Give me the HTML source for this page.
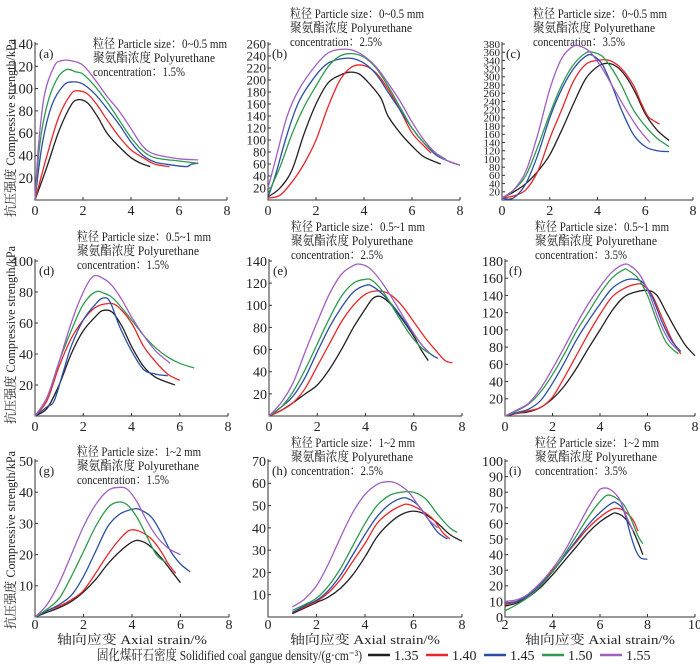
<!DOCTYPE html>
<html><head><meta charset="utf-8">
<style>
html,body{margin:0;padding:0;background:#fff;}
svg{display:block;font-family:"Liberation Serif","Noto Serif CJK SC","Noto Sans CJK SC",serif;}
</style></head>
<body>
<svg id="fig" width="700" height="664" viewBox="0 0 700 664"></svg>
<script>
const densities = ["1.35","1.40","1.45","1.50","1.55"];
const colors = ["#231f20","#e8262b","#2b4fa3","#2e9a4e","#a05fc0"];

const aData = [
 [[0,0],[0.5,30],[1,62],[1.5,85],[1.8,90],[2.2,87],[2.6,75],[3,60],[3.5,48],[4,38],[4.4,33],[4.8,30]],
 [[0,0],[0.5,40],[1,75],[1.5,95],[1.8,98],[2.2,95],[2.6,85],[3,72],[3.5,57],[4,45],[4.5,38],[5,32],[5.6,30]],
 [[0,0],[0.3,50],[0.7,85],[1.2,103],[1.6,106],[2,104],[2.5,95],[3,82],[3.5,68],[4,52],[4.5,40],[5,34],[5.5,32],[6.3,30],[6.5,32],[6.8,33]],
 [[0,0],[0.2,50],[0.5,85],[0.9,108],[1.3,117],[1.7,115],[2,113],[2.5,102],[3,88],[3.5,72],[4,56],[4.5,44],[5,38],[6,35],[6.8,33]],
 [[0,0],[0.15,50],[0.4,95],[0.8,120],[1.1,125],[1.5,125],[2,121],[2.5,108],[3,93],[3.5,80],[4,64],[4.5,48],[5,41],[6,37],[6.8,36]]
];
const bData = [
 [[0,5],[0.5,20],[1,50],[1.5,110],[2,160],[2.5,195],[3,208],[3.4,213],[3.8,210],[4.2,195],[4.7,170],[5,140],[5.5,112],[6,90],[6.5,72],[7.2,60]],
 [[0,3],[0.5,8],[1,30],[1.5,60],[2,100],[2.5,155],[3,200],[3.5,222],[4,224],[4.5,212],[5,185],[5.5,150],[6,112],[6.5,90],[6.8,78]],
 [[0,5],[0.3,40],[0.8,110],[1.3,165],[2,208],[2.5,228],[3,235],[3.5,236],[4,228],[4.5,210],[5,180],[5.5,150],[6,120],[6.5,95],[7,75],[7.5,65],[8,58]],
 [[0,10],[0.5,55],[1,110],[1.5,155],[2,190],[2.5,222],[3,240],[3.5,244],[4,238],[4.5,220],[5,190],[5.5,155],[6,120],[6.5,95],[7,78],[7.4,68]],
 [[0,20],[0.3,65],[0.8,140],[1.3,185],[2,225],[2.5,245],[3,251],[3.5,250],[4,240],[4.5,222],[5,195],[5.5,165],[6,130],[6.5,100],[7,78],[7.5,65],[8,58]]
];
const cData = [
 [[0,5],[0.5,20],[1,40],[1.5,70],[2,110],[2.5,170],[3,235],[3.5,295],[4,325],[4.4,333],[4.8,325],[5.2,300],[5.6,260],[6,210],[6.5,170],[7,145]],
 [[0,5],[0.5,10],[1,25],[1.5,70],[2,150],[2.5,220],[3,290],[3.5,330],[4,340],[4.5,340],[5,320],[5.5,280],[5.8,240],[6.1,205],[6.3,195],[6.6,185]],
 [[0,5],[0.3,2],[0.6,10],[1,40],[1.5,110],[2,200],[2.5,270],[3,320],[3.5,350],[3.8,352],[4.2,330],[4.6,280],[5,220],[5.5,160],[6,130],[6.5,120],[7,118]],
 [[0,5],[0.5,25],[1,60],[1.5,130],[2,210],[2.5,280],[3,330],[3.5,358],[3.8,360],[4.2,350],[4.6,320],[5,280],[5.5,220],[6,180],[6.5,150],[7,130]],
 [[0,5],[0.5,25],[1,70],[1.5,160],[2,270],[2.5,345],[3,375],[3.3,374],[3.7,360],[4.2,320],[4.7,270],[5.2,220],[5.7,175],[6.2,140]]
];
const dData = [
 [[0,0],[0.5,5],[1,20],[1.5,40],[2,55],[2.5,64],[2.8,68],[3.2,67],[3.6,58],[4,45],[4.5,32],[5,25],[5.8,20]],
 [[0,0],[0.5,10],[1,32],[1.5,50],[2,62],[2.5,70],[3,72.5],[3.4,71],[4,60],[4.5,45],[5,35],[5.5,27],[6,23]],
 [[0,0],[0.5,6],[0.8,10],[1.2,30],[1.5,45],[2,62],[2.5,72],[2.8,76],[3.1,74],[3.5,58],[4,42],[4.5,30],[5,27],[5.5,26]],
 [[0,0],[0.5,12],[1,35],[1.5,55],[2,72],[2.5,80],[2.9,79],[3.3,75],[4,62],[4.5,52],[5,44],[5.5,38],[6,34],[6.6,31]],
 [[0,0],[0.5,12],[1,35],[1.5,60],[2,80],[2.4,90],[2.8,89],[3.2,84],[3.6,75],[4,64],[4.5,52],[5,42],[5.6,34]]
];
const eData = [
 [[0,0],[0.5,5],[1,12],[1.5,20],[2,28],[2.5,42],[3,60],[3.5,80],[4,97],[4.3,106],[4.6,108],[5,102],[5.5,88],[6,72],[6.3,60],[6.6,50]],
 [[0,0],[0.5,5],[1,12],[1.5,25],[2,45],[2.5,65],[3,85],[3.5,100],[4,110],[4.5,113],[5,110],[5.5,100],[6,85],[6.5,70],[7,57],[7.3,50],[7.6,48]],
 [[0,0],[0.5,8],[1,18],[1.5,35],[2,58],[2.5,80],[3,98],[3.5,112],[4,118],[4.3,117],[4.8,108],[5.3,95],[5.8,80],[6.3,65],[6.7,56],[7,52]],
 [[0,0],[0.5,8],[1,22],[1.5,42],[2,65],[2.5,88],[3,108],[3.5,120],[4,123.5],[4.3,122],[4.8,110],[5.3,92],[5.8,75],[6.3,62],[6.7,56]],
 [[0,0],[0.5,12],[1,30],[1.5,58],[2,85],[2.5,110],[3,128],[3.5,136],[3.8,137],[4.2,133],[4.7,120],[5.2,103],[5.7,85],[6.2,68],[6.6,58]]
];
const fData = [
 [[0,0],[0.5,3],[1,5],[1.5,10],[2,20],[2.5,35],[3,55],[3.5,78],[4,100],[4.5,122],[5,138],[5.5,144],[6,146],[6.4,140],[6.8,120],[7.2,100],[7.6,82],[8,70]],
 [[0,0],[0.5,3],[1,6],[1.5,10],[2,22],[2.5,45],[3,70],[3.5,95],[4,118],[4.5,138],[5,148],[5.5,153],[5.8,152],[6.2,140],[6.6,115],[7,90],[7.4,72]],
 [[0,0],[0.5,4],[1,8],[1.5,18],[2,38],[2.5,62],[3,88],[3.5,110],[4,130],[4.5,148],[5,157],[5.4,159],[5.8,155],[6.2,138],[6.6,110],[7,88],[7.4,75]],
 [[0,0],[0.5,6],[1,14],[1.5,28],[2,48],[2.5,72],[3,98],[3.5,120],[4,142],[4.5,160],[5,170],[5.2,169],[5.6,160],[6,140],[6.4,110],[6.8,85],[7.3,72]],
 [[0,0],[0.5,7],[1,15],[1.5,32],[2,55],[2.5,80],[3,106],[3.5,130],[4,150],[4.5,167],[5,176],[5.3,174],[5.7,163],[6.1,140],[6.5,110],[6.9,88],[7.3,76]]
];
const gData = [
 [[0,0],[0.5,1.5],[1,3],[1.5,5],[2,8],[2.5,12],[3,17],[3.5,21],[4,24],[4.3,24.5],[4.7,23],[5.2,19],[5.6,15],[6,11]],
 [[0,0],[0.5,2],[1,3.5],[1.5,5.5],[2,8.5],[2.5,14],[3,20],[3.5,25],[3.9,27.8],[4.3,27.5],[4.8,25],[5.2,21],[5.5,17],[5.8,14]],
 [[0,0],[0.5,2],[1,4],[1.5,7],[2,13],[2.5,21],[3,29],[3.5,33],[4,34.5],[4.3,34.5],[4.8,32],[5.2,27],[5.6,21],[6,17],[6.4,14.5]],
 [[0,0],[0.5,2.5],[1,6],[1.5,13],[2,21],[2.5,29],[3,35],[3.4,36.8],[3.8,36],[4.2,32],[4.6,26],[5,20],[5.4,17.5]],
 [[0,0],[0.5,4],[1,11],[1.5,20],[2,29],[2.5,36],[3,40.5],[3.4,41.5],[3.8,41],[4.2,37],[4.6,31],[5,26],[5.5,22],[6,20]]
];
const hData = [
 [[1,1.5],[1.5,4],[2,6.5],[2.5,9],[3,13],[3.5,19],[4,27],[4.5,36],[5,42],[5.5,46],[6,47.5],[6.5,46],[7,42],[7.5,37],[8,34]],
 [[1,2],[1.5,4.5],[2,7],[2.5,11],[3,17],[3.5,25],[4,33],[4.5,42],[5,47],[5.5,50],[5.8,50.5],[6.3,48],[6.8,44],[7.2,38],[7.5,35]],
 [[1,2],[1.5,5],[2,7.5],[2.5,12],[3,19],[3.5,28],[4,37],[4.5,45],[5,50.5],[5.5,53.3],[5.8,53],[6.2,50],[6.6,44],[7,38],[7.4,35]],
 [[1,3],[1.5,5.5],[2,8.5],[2.5,14],[3,22],[3.5,32],[4,42],[4.5,50],[5,54.5],[5.5,56],[6,56],[6.5,53],[7,46],[7.5,40],[7.8,38]],
 [[1,4.5],[1.5,8],[2,14],[2.5,24],[3,36],[3.5,47],[4,55],[4.5,59.5],[4.9,60.7],[5.3,60],[5.8,56],[6.2,50],[6.6,44],[7,40]]
];
const iData = [
 [[2,7],[2.5,9],[3,13],[3.5,19],[4,27],[4.5,36],[5,45],[5.5,54],[6,61],[6.5,66],[6.7,66.5],[7,64],[7.3,58],[7.6,48],[7.8,40]],
 [[2,8],[2.5,10],[3,15],[3.5,22],[4,30],[4.5,39],[5,48],[5.5,57],[6,64],[6.5,69],[6.8,69.5],[7.1,67],[7.4,62],[7.6,55]],
 [[2,9],[2.5,10],[3,14],[3.5,21],[4,29],[4.5,39],[5,49],[5.5,59],[6,67],[6.5,73],[6.7,73],[7,68],[7.3,52],[7.5,43],[7.7,38],[8,37]],
 [[2,4],[2.5,8],[3,13],[3.5,20],[4,29],[4.5,40],[5,52],[5.5,64],[6,74],[6.3,78],[6.6,77],[7,72],[7.3,63],[7.6,52],[7.8,47]],
 [[2,10],[2.5,11],[3,15],[3.5,22],[4,31],[4.5,42],[5,56],[5.5,70],[5.9,80],[6.1,82.5],[6.4,82],[6.8,76],[7.1,65],[7.4,55]]
];
const aYTicks = [20,40,60,80,100,120,140];
const bYTicks = [20,40,60,80,100,120,140,160,180,200,220,240,260];
const cYTicks = [20,40,60,80,100,120,140,160,180,200,220,240,260,280,300,320,340,360,380];
const dYTicks = [20,40,60,80,100];
const eYTicks = [20,40,60,80,100,120,140];
const fYTicks = [20,40,60,80,100,120,140,160,180];
const gYTicks = [10,20,30,40,50];
const hYTicks = [10,20,30,40,50,60,70];
const iYTicks = [0,10,20,30,40,50,60,70,80,90,100];
const xTicks08 = [0,2,4,6,8];
const xTicks210 = [2,4,6,8,10];
const sizes = ["0~0.5 mm","0~0.5 mm","0~0.5 mm","0.5~1 mm","0.5~1 mm","0.5~1 mm","1~2 mm","1~2 mm","1~2 mm"];
const concs = ["1.5%","2.5%","3.5%","1.5%","2.5%","3.5%","1.5%","2.5%","3.5%"];

const NS="http://www.w3.org/2000/svg";
const svg=document.getElementById('fig');
function mk(tag,attrs,parent){const e=document.createElementNS(NS,tag);for(const k in attrs)e.setAttribute(k,attrs[k]);(parent||svg).appendChild(e);return e;}

const panels=[
 {id:"a",data:aData,yt:aYTicks,ymax:140,xmin:0,xmax:8,xt:xTicks08,x0:35,x1:227,y0:200,y1:44,tx:93,ty:43,fs:14.5,xl:15},
 {id:"b",data:bData,yt:bYTicks,ymax:260,xmin:0,xmax:8,xt:xTicks08,x0:268,x1:460,y0:200,y1:44,tx:290,ty:13,fs:13,xl:15},
 {id:"c",data:cData,yt:cYTicks,ymax:380,xmin:0,xmax:8,xt:xTicks08,x0:502,x1:693,y0:200,y1:44,tx:533,ty:13,fs:11,xl:15},
 {id:"d",data:dData,yt:dYTicks,ymax:100,xmin:0,xmax:8,xt:xTicks08,x0:35,x1:228,y0:416,y1:261,tx:77,ty:236,fs:14,xl:15},
 {id:"e",data:eData,yt:eYTicks,ymax:140,xmin:0,xmax:8,xt:xTicks08,x0:269,x1:462,y0:416,y1:261,tx:291,ty:226,fs:14,xl:15},
 {id:"f",data:fData,yt:fYTicks,ymax:180,xmin:0,xmax:8,xt:xTicks08,x0:505,x1:695,y0:416,y1:261,tx:535,ty:226,fs:14,xl:15},
 {id:"g",data:gData,yt:gYTicks,ymax:50,xmin:0,xmax:8,xt:xTicks08,x0:35,x1:229,y0:617,y1:461,tx:77,ty:451,fs:14,xl:12},
 {id:"h",data:hData,yt:hYTicks,ymax:70,xmin:0,xmax:8,xt:xTicks08,x0:268,x1:462,y0:617,y1:461,tx:291,ty:442,fs:14,xl:12},
 {id:"i",data:iData,yt:iYTicks,ymax:100,xmin:2,xmax:10,xt:xTicks210,x0:505,x1:695,y0:617,y1:461,tx:535,ty:442,fs:14,xl:12}
];

function pathFrom(pts){
  let d="M"+pts[0][0].toFixed(1)+","+pts[0][1].toFixed(1);
  for(let i=0;i<pts.length-1;i++){
    const p0=pts[Math.max(0,i-1)],p1=pts[i],p2=pts[i+1],p3=pts[Math.min(pts.length-1,i+2)];
    const c1x=p1[0]+(p2[0]-p0[0])/6,c1y=p1[1]+(p2[1]-p0[1])/6;
    const c2x=p2[0]-(p3[0]-p1[0])/6,c2y=p2[1]-(p3[1]-p1[1])/6;
    d+=" C"+c1x.toFixed(1)+","+c1y.toFixed(1)+" "+c2x.toFixed(1)+","+c2y.toFixed(1)+" "+p2[0].toFixed(1)+","+p2[1].toFixed(1);
  }
  return d;
}

panels.forEach((p,pi)=>{
  const g=mk('g',{});
  
  
  const xs=v=>p.x0+(v-p.xmin)/(p.xmax-p.xmin)*(p.x1-p.x0);
  const ys=v=>p.y0-v/p.ymax*(p.y0-p.y1);
  const ax=mk('path',{d:`M${p.x0},${p.y1-2} L${p.x0},${p.y0} L${p.x1},${p.y0}`,fill:"none",stroke:"#333","stroke-width":1},g);
  
  
  p.xt.forEach(t=>{
    const x=xs(t);
    mk('line',{x1:x,y1:p.y0,x2:x,y2:p.y0-3,stroke:"#333","stroke-width":1},g);
    const tx=mk('text',{x:x,y:p.y0+p.xl,"text-anchor":"middle","font-size":14,fill:"#222"},g);
    tx.textContent=t;
    
    
  });
  p.yt.forEach(t=>{
    const y=ys(t);
    mk('line',{x1:p.x0,y1:y,x2:p.x0+3,y2:y,stroke:"#333","stroke-width":1},g);
    const tx=mk('text',{x:p.x0-2,y:y+p.fs*0.35,"text-anchor":"end","font-size":p.fs,fill:"#222"},g);
    tx.textContent=t;
    
    
  });
  const lab=mk('text',{x:p.x0+4,y:p.y1+14,"font-size":13,fill:"#222"},g);
  lab.textContent="("+p.id+")";
  
  
  const lines=["粒径 Particle size："+sizes[pi],"聚氨酯浓度 Polyurethane","concentration："+concs[pi]];
  const lens=[sizes[pi]==="1~2 mm"?124:134,122,92];
  lines.forEach((s,k)=>{
    const t=mk('text',{x:p.tx,y:p.ty+5+k*14,"font-size":13,fill:"#222",textLength:lens[k],lengthAdjust:"spacingAndGlyphs"},g);
    t.textContent=s;
    
    
  });
  p.data.forEach((series,si)=>{
    const pts=series.map(q=>[xs(q[0]),ys(q[1])]);
    const pa=mk('path',{d:pathFrom(pts),fill:"none",stroke:colors[si],"stroke-width":1.3},g);
    
    
  });
  if(pi>=6){
    const xl=mk('text',{x:(p.x0+p.x1)/2,y:644,"text-anchor":"middle","font-size":13,fill:"#222",textLength:150,lengthAdjust:"spacingAndGlyphs"},g);
    xl.textContent="轴向应变 Axial strain/%";
    
    
  }
});

[128,335,540].forEach(cy=>{
  const t=mk('text',{x:0,y:0,"text-anchor":"middle","font-size":13,fill:"#222",textLength:178,lengthAdjust:"spacingAndGlyphs",transform:`translate(15,${cy}) rotate(-90)`});
  t.textContent="抗压强度 Compressive strength/kPa";
  
  
});

const lg=mk('g',{});


const lt=mk('text',{x:97,y:660,"font-size":14,fill:"#222",textLength:265,lengthAdjust:"spacingAndGlyphs"},lg);
lt.textContent="固化煤矸石密度 Solidified coal gangue density/(g·cm⁻³)";


densities.forEach((d,i)=>{
  const lx=368+i*58;
  const e=mk('g',{},lg);
  
  
  mk('line',{x1:lx,y1:655,x2:lx+22,y2:655,stroke:colors[i],"stroke-width":2.5},e);
  const t=mk('text',{x:lx+26,y:660,"font-size":14,fill:"#222"},e);
  t.textContent=d;
});
</script>
</body></html>
